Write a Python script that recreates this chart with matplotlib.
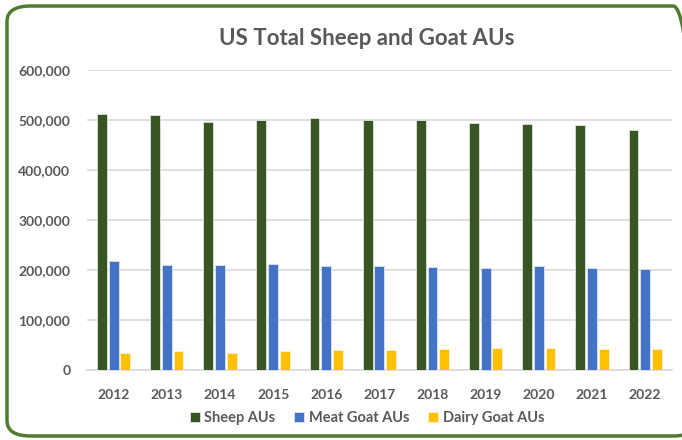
import numpy as np
import matplotlib
matplotlib.use("Agg")
import matplotlib.pyplot as plt
from matplotlib.patches import FancyBboxPatch
from matplotlib.ticker import FuncFormatter

years = ["2012", "2013", "2014", "2015", "2016", "2017",
         "2018", "2019", "2020", "2021", "2022"]
sheep = [511000, 509000, 495000, 499000, 503000, 499000,
         500000, 493000, 491000, 489000, 479000]
meat_goat = [219000, 210000, 210000, 212000, 208000, 208000,
             206000, 204000, 208000, 204000, 202000]
dairy_goat = [35000, 38000, 35000, 38000, 40000, 40000,
              42000, 44000, 44000, 42000, 42000]

plt.rcParams["font.family"] = ["Lato", "DejaVu Sans"]
GREY = "#595959"

fig = plt.figure(figsize=(6.82, 4.40), dpi=100)
ax = fig.add_axes([0.1276, 0.159, 0.8574, 0.682])

x = np.arange(len(years))
w = 0.185
step = 0.22
ax.bar(x - step, sheep, w, color="#375623", edgecolor="#dfe6d8", linewidth=0.6,
       label="Sheep AUs", zorder=3)
ax.bar(x, meat_goat, w, color="#4472C4", edgecolor="#dde5f4", linewidth=0.6,
       label="Meat Goat AUs", zorder=3)
ax.bar(x + step, dairy_goat, w, color="#FFC000", edgecolor="#fff2cc", linewidth=0.6,
       label="Dairy Goat AUs", zorder=3)

ax.set_xlim(-0.5, len(years) - 0.5)
ax.set_ylim(0, 600000)
ax.set_yticks(np.arange(0, 600001, 100000))
ax.yaxis.set_major_formatter(FuncFormatter(lambda v, p: f"{int(v):,}"))
ax.set_xticks(x)
ax.set_xticklabels(years)

ax.grid(axis="y", color="#d9d9d9", linewidth=1.2, zorder=0)
for s in ["top", "right", "left"]:
    ax.spines[s].set_visible(False)
ax.spines["bottom"].set_color("#d9d9d9")
ax.spines["bottom"].set_linewidth(1.2)
ax.tick_params(axis="both", length=0, colors=GREY, labelsize=10)
for lab in ax.get_xticklabels() + ax.get_yticklabels():
    lab.set_fontweight("bold")
ax.tick_params(axis="y", pad=12)
ax.tick_params(axis="x", pad=14)

fig.text(0.538, 0.913, "US Total Sheep and Goat AUs", ha="center", va="center",
         fontsize=16, fontweight="bold", color=GREY)

leg = fig.legend(loc="center", bbox_to_anchor=(0.538, 0.05), ncol=3, frameon=False,
                 fontsize=10.5, handlelength=0.7, handleheight=0.7, handletextpad=0.3,
                 columnspacing=1.3)
for t in leg.get_texts():
    t.set_color(GREY)
    t.set_fontweight("bold")

# rounded frame, runs past the right edge like the original
border = FancyBboxPatch((7 / 682, 4 / 440), 690 / 682, 430 / 440, transform=fig.transFigure,
                        boxstyle="round,pad=0,rounding_size=0.035",
                        facecolor="none", edgecolor="#4f7d2f", linewidth=2.5,
                        clip_on=False)
fig.patches.append(border)

fig.savefig("out.png", dpi=100)
